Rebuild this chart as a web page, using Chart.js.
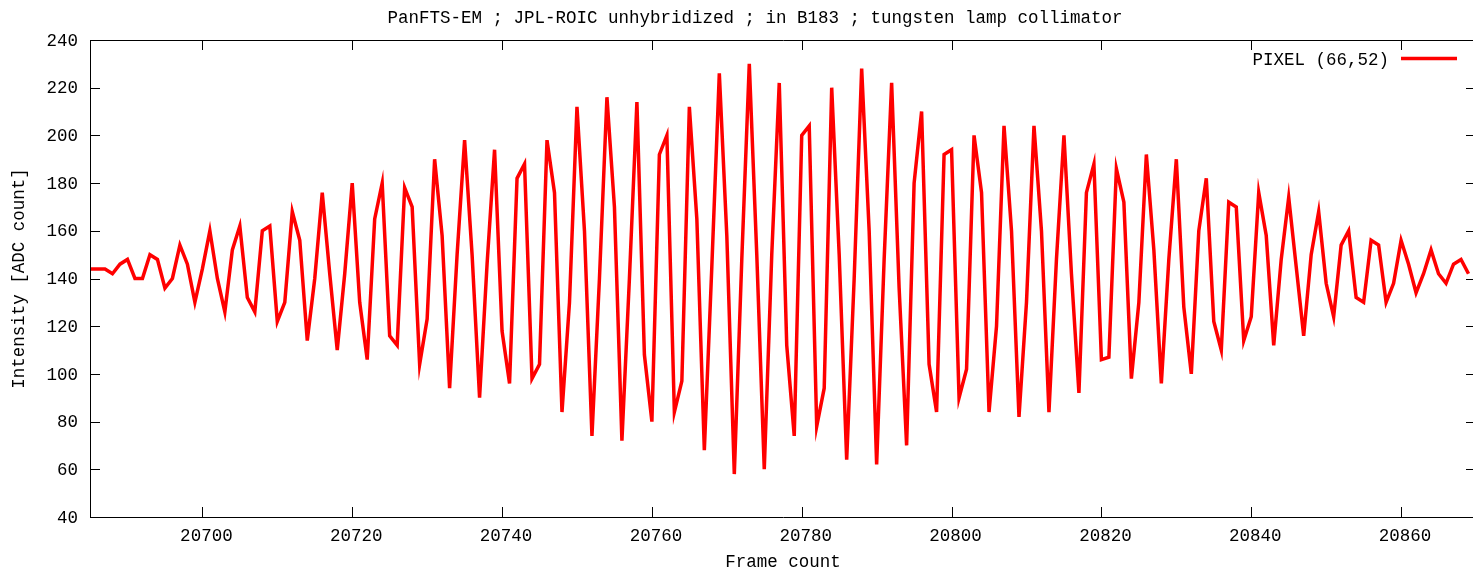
<!DOCTYPE html>
<html><head><meta charset="utf-8">
<script src="https://cdn.jsdelivr.net/npm/chart.js@4.4.1/dist/chart.umd.min.js"></script>
<style>html,body{margin:0;padding:0;background:#fff;overflow:hidden}canvas{display:block}</style>
</head><body>
<canvas id="c" width="1477" height="570"></canvas>
<script>
const chartTitle = "PanFTS-EM ; JPL-ROIC unhybridized ; in B183 ; tungsten lamp collimator";
const seriesLabel = "PIXEL (66,52)";
const xAxisTitle = "Frame count";
const yAxisTitle = "Intensity [ADC count]";
const firstFrame = 20685;
const intensity = [
  144,144,144,142,146,148,140,140,150,148,136,140,154,146,130,
  144,160,140,126,152,162,132,126,160,162,122,130,168,156,114,
  140,176,142,110,142,180,130,106,165,180,116,112,178,170,104,
  123,190,158,94,150,198,150,90,146,194,118,96,182,188,98,
  104,198,176,84,130,212,160,74,140,216,170,72,140,214,108,
  80,192,200,84,97,212,165,68,145,226,158,58,148,230,150,
  60,150,222,112,74,200,204,78,94,220,150,64,140,228,160,
  62,148,222,136,70,180,210,104,84,192,194,90,102,200,176,
  84,120,204,160,82,130,204,160,84,148,200,142,92,176,188,
  106,107,186,172,98,130,192,152,96,148,190,128,100,160,182,
  122,110,172,170,114,124,176,158,112,148,174,145,116,150,168,
  138,124,154,160,132,130,156,154,130,138,156,146,134,142,152,
  142,138,146,148,142
];
const frames = intensity.map((_, i) => firstFrame + i);
const xTicks = [20700, 20720, 20740, 20760, 20780, 20800, 20820, 20840, 20860];
const yTicks = [40, 60, 80, 100, 120, 140, 160, 180, 200, 220, 240];

const FONT = '17.5px "Liberation Mono", "DejaVu Sans Mono", monospace';

const gnuplotFrame = {
  id: 'gnuplotFrame',
  afterDraw(chart) {
    const ctx = chart.ctx;
    const a = chart.chartArea;
    const xs = chart.scales.x, ys = chart.scales.y;
    ctx.save();
    ctx.strokeStyle = '#000';
    ctx.lineWidth = 1;
    ctx.beginPath();
    ctx.rect(Math.round(a.left) + 0.5, Math.round(a.top) + 0.5,
             Math.round(a.right - a.left), Math.round(a.bottom - a.top));
    ctx.stroke();
    const TL = 10;
    ctx.beginPath();
    xTicks.forEach(v => {
      const px = Math.round(xs.getPixelForValue(v)) + 0.5;
      ctx.moveTo(px, a.bottom); ctx.lineTo(px, a.bottom - TL);
      ctx.moveTo(px, a.top); ctx.lineTo(px, a.top + TL);
    });
    yTicks.forEach(v => {
      const py = Math.round(ys.getPixelForValue(v)) + 0.5;
      ctx.moveTo(a.left, py); ctx.lineTo(a.left + TL, py);
      ctx.moveTo(a.right, py); ctx.lineTo(a.right - TL, py);
    });
    ctx.stroke();

    ctx.fillStyle = '#000';
    ctx.font = FONT;
    ctx.textBaseline = 'middle';
    ctx.textAlign = 'right';
    yTicks.forEach(v => ctx.fillText(String(v), 78, ys.getPixelForValue(v) + 1));
    ctx.textAlign = 'center';
    xTicks.forEach(v => ctx.fillText(String(v), xs.getPixelForValue(v) + 4, 536));
    ctx.fillText(chartTitle, 755, 18);
    ctx.fillText(xAxisTitle, (a.left + a.right) / 2, 562);
    ctx.save();
    ctx.translate(19, (a.top + a.bottom) / 2);
    ctx.rotate(-Math.PI / 2);
    ctx.fillText(yAxisTitle, 0, 0);
    ctx.restore();
    ctx.textAlign = 'right';
    ctx.fillText(seriesLabel, 1389, 60);
    ctx.strokeStyle = '#ff0000';
    ctx.lineWidth = 3.5;
    ctx.beginPath();
    ctx.moveTo(1401, 58.5); ctx.lineTo(1457, 58.5);
    ctx.stroke();
    ctx.restore();
  }
};

new Chart(document.getElementById('c'), {
  type: 'line',
  data: {
    datasets: [{
      label: seriesLabel,
      data: frames.map((f, i) => ({ x: f, y: intensity[i] })),
      borderColor: '#ff0000',
      backgroundColor: '#ff0000',
      borderWidth: 3.5,
      pointRadius: 0,
      tension: 0,
      fill: false,
      borderJoinStyle: 'miter'
    }]
  },
  options: {
    responsive: false,
    animation: false,
    layout: { padding: { left: 90, top: 40, right: 1, bottom: 53 } },
    scales: {
      x: { type: 'linear', min: 20685, max: 20870, display: false },
      y: { min: 40, max: 240, display: false }
    },
    plugins: { legend: { display: false }, title: { display: false }, tooltip: { enabled: false } }
  },
  plugins: [gnuplotFrame]
});
</script>
</body></html>
